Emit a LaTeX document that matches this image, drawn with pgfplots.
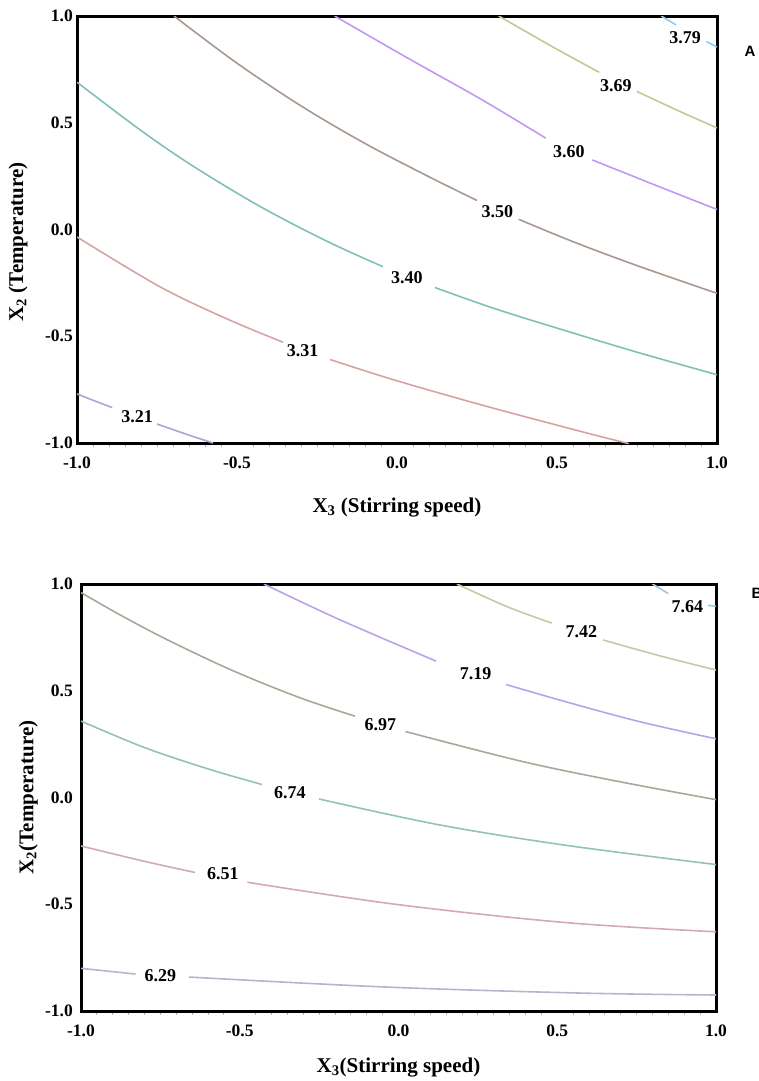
\documentclass[border=0pt]{standalone}
\usepackage{pgfplots}
\pgfplotsset{compat=1.18}
\usepackage{fontspec}
\setmainfont{Liberation Serif}
\newfontfamily\sansfont{Liberation Sans}

\definecolor{cA1}{HTML}{A3A8D6}
\definecolor{cA2}{HTML}{D6A3A3}
\definecolor{cA3}{HTML}{80C0B8}
\definecolor{cA4}{HTML}{A8988F}
\definecolor{cA5}{HTML}{C098F2}
\definecolor{cA6}{HTML}{BFCB94}
\definecolor{cA7}{HTML}{90C8F0}
\definecolor{cB1}{HTML}{B2B6CE}
\definecolor{cB2}{HTML}{D4AAB2}
\definecolor{cB3}{HTML}{92C2BA}
\definecolor{cB4}{HTML}{A8A898}
\definecolor{cB5}{HTML}{BBA2EA}
\definecolor{cB6}{HTML}{C2CCA2}
\definecolor{cB7}{HTML}{A2C8E2}

\tikzset{clab/.style={font=\fontsize{18}{20}\selectfont\bfseries, text=black, inner sep=0pt}}

\pgfplotsset{
  myaxis/.style={
    scale only axis,
    xmin=-1,xmax=1,ymin=-1,ymax=1,
    axis line style={line width=3pt},
    xtick={-1,-0.5,0,0.5,1},
    xticklabels={{-1.0},{-0.5},{0.0},{0.5},{1.0}},
    ytick={-1,-0.5,0,0.5,1},
    yticklabels={{-1.0},{-0.5},{0.0},{0.5},{1.0}},
    minor x tick num=9,
    tick align=outside,
    major tick length=0pt,
    minor tick length=3.5pt,
    minor tick style={black!30,line width=1pt},
    xtick pos=left, ytick pos=left,
    ticklabel style={font=\fontsize{17.5}{19}\selectfont\bfseries},
    xticklabel style={anchor=center,yshift=-20pt},
    label style={font=\fontsize{21}{24}\selectfont\bfseries},
    every axis plot/.append style={line width=1.6pt, smooth, tension=0.55},
    clip=true,
  },
}

\begin{document}
\begin{tikzpicture}
\useasboundingbox (0pt,0pt) rectangle (759pt,-1081pt);

% ---------------- Panel A ----------------
\begin{axis}[myaxis,
  width=640pt, height=427pt,
  at={(77pt,-16pt)}, anchor=north west,
  yticklabel style={anchor=east,inner sep=0pt,xshift=-4pt},
  xlabel={X\textsubscript{3} (Stirring speed)},
  ylabel={X\textsubscript{2} (Temperature)},
  xlabel style={at={(axis description cs:0.5,-0.150)},anchor=center},
  ylabel style={at={(axis description cs:-0.092,0.471)},anchor=center},
]
% 3.21
\addplot[cA1] coordinates {(-1,-0.77) (-0.95,-0.7997) (-0.89,-0.834)};
\addplot[cA1] coordinates {(-0.75,-0.911) (-0.66,-0.958) (-0.575,-1.0)};
\node[clab] at (axis cs:-0.8125,-0.876) {3.21};
% 3.31
\addplot[cA2] coordinates {(-1,-0.035) (-0.741,-0.268) (-0.531,-0.419) (-0.356,-0.528)};
\addplot[cA2] coordinates {(-0.209,-0.609) (-0.0125,-0.703) (0.272,-0.825) (0.575,-0.946) (0.725,-1.003)};
\node[clab] at (axis cs:-0.295,-0.569) {3.31};
% 3.40
\addplot[cA3] coordinates {(-1,0.69) (-0.803,0.467) (-0.6375,0.297) (-0.428,0.108) (-0.219,-0.055) (-0.044,-0.174)};
\addplot[cA3] coordinates {(0.119,-0.272) (0.3,-0.368) (0.509,-0.466) (0.76,-0.579) (1,-0.680)};
\node[clab] at (axis cs:0.031,-0.227) {3.40};
% 3.50
\addplot[cA4] coordinates {(-0.697,1.0) (-0.5,0.779) (-0.3,0.579) (-0.1,0.403) (0.1,0.247) (0.25,0.136)};
\addplot[cA4] coordinates {(0.38,0.048) (0.55,-0.057) (0.75,-0.169) (1,-0.299)};
\node[clab] at (axis cs:0.314,0.085) {3.50};
% 3.60
\addplot[cA5] coordinates {(-0.195,1.0) (0.0406,0.797) (0.264,0.609) (0.4647,0.428)};
\addplot[cA5] coordinates {(0.61,0.326) (0.822,0.199) (1,0.094)};
\node[clab] at (axis cs:0.537,0.366) {3.60};
% 3.69
\addplot[cA6] coordinates {(0.318,1.0) (0.487,0.855) (0.632,0.736)};
\addplot[cA6] coordinates {(0.749,0.647) (0.878,0.557) (1,0.476)};
\node[clab] at (axis cs:0.684,0.672) {3.69};
% 3.79
\addplot[cA7] coordinates {(0.826,1.0) (0.872,0.958)};
\addplot[cA7] coordinates {(0.967,0.88) (1,0.855)};
\node[clab] at (axis cs:0.9,0.90) {3.79};
\end{axis}
\node[font=\sansfont\bfseries\fontsize{15}{18}\selectfont] at (750pt,-51pt) {A};

% ---------------- Panel B ----------------
\begin{axis}[myaxis,
  width=635pt, height=427pt,
  at={(81pt,-584pt)}, anchor=north west,
  yticklabel style={anchor=east,inner sep=0pt,xshift=-8pt},
  xlabel={X\textsubscript{3}(Stirring speed)},
  ylabel={X\textsubscript{2}(Temperature)},
  xlabel style={at={(axis description cs:0.5,-0.133)},anchor=center},
  ylabel style={at={(axis description cs:-0.083,0.5)},anchor=center},
]
% 6.29
\addplot[cB1] coordinates {(-1,-0.80) (-0.828,-0.827)};
\addplot[cB1] coordinates {(-0.66,-0.841) (-0.036,-0.888) (0.575,-0.916) (1,-0.925)};
\node[clab] at (axis cs:-0.75,-0.834) {6.29};
% 6.51
\addplot[cB2] coordinates {(-1,-0.227) (-0.80,-0.299) (-0.641,-0.351)};
\addplot[cB2] coordinates {(-0.476,-0.397) (-0.005,-0.501) (0.528,-0.586) (1,-0.629)};
\node[clab] at (axis cs:-0.553,-0.358) {6.51};
% 6.74
\addplot[cB3] coordinates {(-1,0.358) (-0.80,0.234) (-0.60,0.134) (-0.43,0.061)};
\addplot[cB3] coordinates {(-0.25,-0.007) (0.128,-0.128) (0.528,-0.224) (1,-0.314)};
\node[clab] at (axis cs:-0.342,0.022) {6.74};
% 6.97
\addplot[cB4] coordinates {(-1,0.96) (-0.874,0.853) (-0.723,0.735) (-0.52,0.593) (-0.31,0.467) (-0.137,0.381)};
\addplot[cB4] coordinates {(0.022,0.309) (0.392,0.168) (0.7,0.073) (1,-0.010)};
\node[clab] at (axis cs:-0.057,0.340) {6.97};
% 7.19
\addplot[cB5] coordinates {(-0.424,1) (-0.187,0.834) (0.118,0.639)};
\addplot[cB5] coordinates {(0.339,0.529) (0.528,0.448) (0.76,0.355) (1,0.275)};
\node[clab] at (axis cs:0.243,0.581) {7.19};
% 7.42
\addplot[cB6] coordinates {(0.184,1) (0.345,0.892) (0.483,0.817)};
\addplot[cB6] coordinates {(0.644,0.738) (0.82,0.665) (1,0.597)};
\node[clab] at (axis cs:0.576,0.778) {7.42};
% 7.64
\addplot[cB7] coordinates {(0.80,1) (0.85,0.955)};
\addplot[cB7] coordinates {(0.975,0.90) (1,0.895)};
\node[clab] at (axis cs:0.910,0.895) {7.64};
\end{axis}
\node[font=\sansfont\bfseries\fontsize{15}{18}\selectfont] at (757pt,-593pt) {B};
\end{tikzpicture}
\end{document}
